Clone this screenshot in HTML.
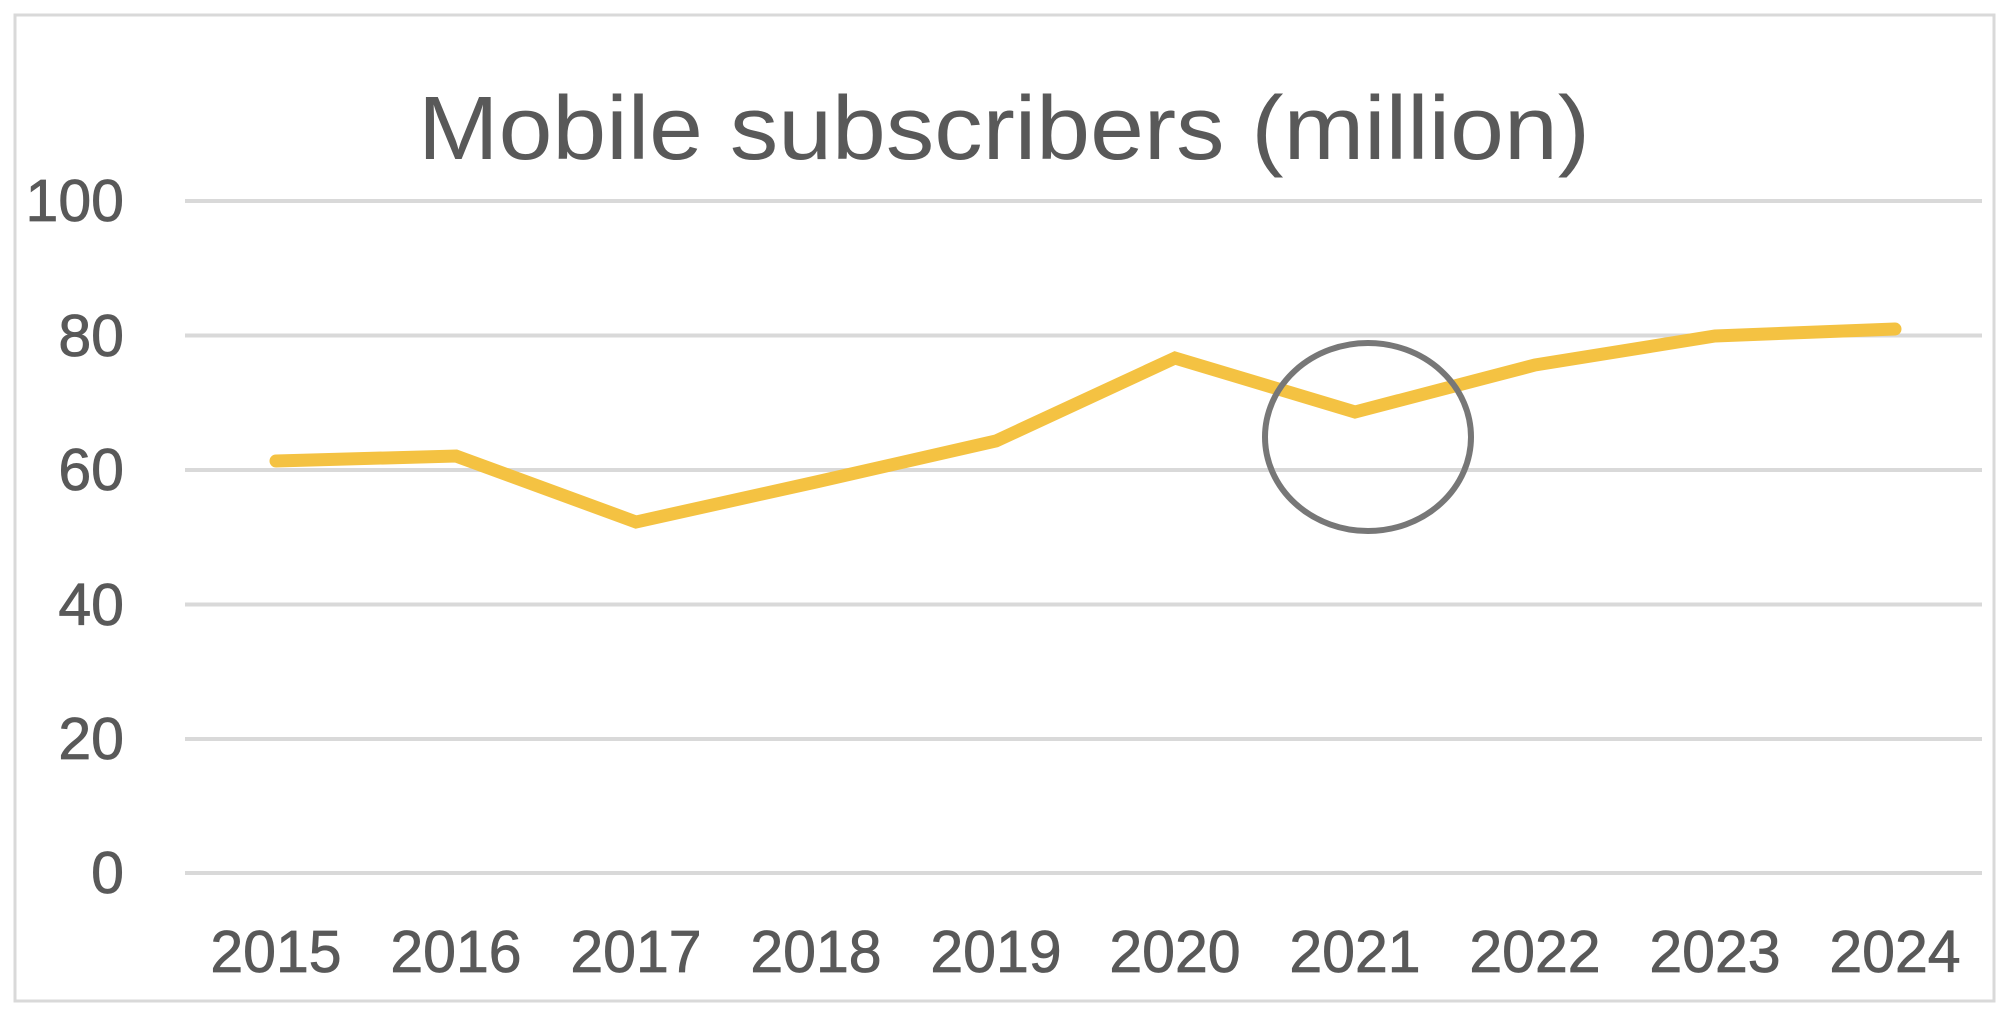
<!DOCTYPE html>
<html><head><meta charset="utf-8"><style>html,body{margin:0;padding:0;background:#fff}svg{display:block}</style></head>
<body>
<svg width="2010" height="1022" viewBox="0 0 2010 1022" xmlns="http://www.w3.org/2000/svg">
<rect x="15" y="15" width="1979" height="986" fill="#fff" stroke="#d9d9d9" stroke-width="3"/>
<text x="1004" y="159" text-anchor="middle" font-family="Liberation Sans, sans-serif" font-size="90" fill="#595959" textLength="1172" lengthAdjust="spacingAndGlyphs">Mobile subscribers (million)</text>
<g stroke="#d9d9d9" stroke-width="4">
<line x1="185" y1="201" x2="1982" y2="201"/>
<line x1="185" y1="335.5" x2="1982" y2="335.5"/>
<line x1="185" y1="470" x2="1982" y2="470"/>
<line x1="185" y1="604.5" x2="1982" y2="604.5"/>
<line x1="185" y1="739" x2="1982" y2="739"/>
<line x1="185" y1="873" x2="1982" y2="873"/>
</g>
<g font-family="Liberation Sans, sans-serif" font-size="59" fill="#595959" text-anchor="end" stroke="#595959" stroke-width="0.8">
<text x="124" y="221">100</text>
<text x="124" y="356">80</text>
<text x="124" y="490">60</text>
<text x="124" y="625">40</text>
<text x="124" y="759">20</text>
<text x="124" y="893">0</text>
</g>
<g font-family="Liberation Sans, sans-serif" font-size="59" fill="#595959" text-anchor="middle" stroke="#595959" stroke-width="0.8">
<text x="276" y="972">2015</text>
<text x="456" y="972">2016</text>
<text x="636" y="972">2017</text>
<text x="816" y="972">2018</text>
<text x="996" y="972">2019</text>
<text x="1175" y="972">2020</text>
<text x="1355" y="972">2021</text>
<text x="1535" y="972">2022</text>
<text x="1715" y="972">2023</text>
<text x="1895" y="972">2024</text>
</g>
<polyline fill="none" stroke="#f4c242" stroke-width="13" stroke-linecap="round" stroke-linejoin="miter"
points="276,461 456,456 636,522 816,482 996,441 1175,358 1355,412 1535,365 1715,336 1895,329"/>
<ellipse cx="1368" cy="437" rx="103" ry="94" fill="none" stroke="#777" stroke-width="6"/>
</svg>
</body></html>
